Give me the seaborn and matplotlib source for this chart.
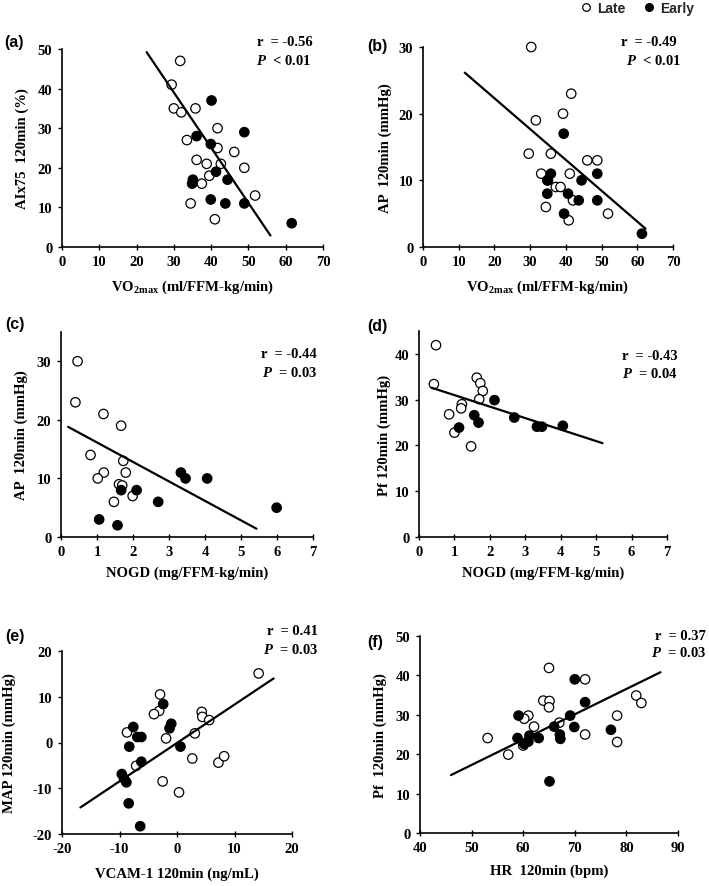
import numpy as np
import pandas as pd
import matplotlib
matplotlib.use("Agg")
import matplotlib.pyplot as plt
from matplotlib.lines import Line2D
import seaborn as sns

# ---------------- data ----------------
a_late_x = [31.7, 29.4, 30.0, 32.0, 35.8, 33.5, 41.7, 41.7, 46.2, 36.1, 38.8, 42.6, 48.9, 39.5, 37.5, 34.5, 51.8, 41.0]
a_late_y = [47, 41, 35, 34, 35, 27, 30, 25, 24, 22, 21, 21, 20, 18, 16, 11, 13, 7]
a_early_x = [40.1, 36.1, 48.9, 39.9, 41.3, 44.4, 35.1, 34.9, 39.9, 43.8, 48.9, 61.6]
a_early_y = [37, 28, 29, 26, 19, 17, 17, 16, 12, 11, 11, 6]
a_fit_x = [22.7, 55.9]
a_fit_y = [49.2, 2.9]

b_late_x = [30.3, 31.6, 29.6, 35.8, 39.2, 41.5, 33.1, 41.1, 46.0, 48.8, 35.0, 37.2, 38.5, 34.4, 42.0, 40.8, 51.8]
b_late_y = [30, 19, 14, 14, 20, 23, 11, 11, 13, 13, 10, 9, 9, 6, 7, 4, 5]
b_early_x = [39.4, 35.8, 34.8, 34.8, 40.6, 44.4, 48.8, 43.6, 48.8, 39.5, 61.3]
b_early_y = [17, 11, 10, 8, 8, 10, 11, 7, 7, 5, 2]
b_fit_x = [11.7, 62.3]
b_fit_y = [26.15, 2.75]

c_late_x = [0.46, 0.40, 1.18, 1.67, 0.82, 1.73, 1.19, 1.80, 1.02, 1.61, 1.70, 1.99, 1.47]
c_late_y = [30, 23, 21, 19, 14, 13, 11, 11, 10, 9, 8.8, 7, 6]
c_early_x = [1.06, 1.57, 1.67, 2.10, 2.70, 3.33, 3.46, 4.06, 5.99]
c_early_y = [3, 2, 8, 8, 6, 11, 10, 10, 5]
c_fit_x = [0.2, 5.43]
c_fit_y = [18.8, 1.41]

d_late_x = [0.48, 0.42, 1.63, 1.73, 1.80, 1.70, 1.21, 1.19, 0.85, 1.00, 1.47]
d_late_y = [41.9, 33.4, 34.8, 33.6, 31.9, 30.1, 29.0, 28.1, 26.8, 22.8, 19.8]
d_early_x = [2.13, 1.56, 1.68, 1.13, 2.69, 3.33, 3.47, 4.06]
d_early_y = [29.9, 26.6, 25.0, 23.9, 26.1, 24.1, 24.1, 24.3]
d_fit_x = [0.36, 5.18]
d_fit_y = [32.6, 20.5]

e_late_x = [14.2, -2.95, -3.1, -4.0, 4.3, 4.4, 5.6, -1.9, 3.1, -8.7, -7.1, 2.66, 7.2, 8.2, -2.5, 0.35]
e_late_y = [15.1, 10.5, 6.9, 6.2, 6.7, 5.6, 4.9, 0.9, 2.0, 2.2, -5.1, -3.5, -4.4, -3.0, -8.5, -10.9]
e_early_x = [-2.4, -7.6, -1.0, -1.3, -6.9, -6.2, -8.3, 0.6, -6.2, -9.6, -9.2, -8.8, -8.4, -6.4]
e_early_y = [8.4, 3.4, 4.1, 3.1, 1.2, 1.2, -0.9, -0.9, -4.2, -6.9, -7.9, -8.7, -13.3, -18.3]
e_fit_x = [-16.8, 16.8]
e_fit_y = [-14.2, 14.0]

f_late_x = [53.1, 57.1, 65.0, 72.0, 63.9, 65.1, 65.0, 61.0, 60.2, 62.1, 67.0, 72.0, 81.9, 82.9, 78.2, 78.2, 60.0]
f_late_y = [24.1, 19.9, 41.9, 39.0, 33.6, 33.5, 31.9, 29.8, 29.0, 27.0, 28.0, 25.0, 34.9, 33.0, 29.8, 23.1, 22.2]
f_early_x = [59.1, 58.9, 60.2, 61.2, 61.0, 63.0, 65.1, 66.0, 67.1, 67.2, 70.0, 69.1, 69.9, 72.0, 77.0]
f_early_y = [29.8, 24.1, 22.6, 24.7, 23.2, 24.1, 13.1, 27.0, 25.0, 23.9, 39.0, 29.8, 26.9, 33.2, 26.2]
f_fit_x = [46.0, 86.6]
f_fit_y = [14.7, 40.8]

panel_tags = ["(a)", "(b)", "(c)", "(d)", "(e)", "(f)"]
x_labels = [r"VO$_{\mathrm{2max}}$ (ml/FFM-kg/min)", r"VO$_{\mathrm{2max}}$ (ml/FFM-kg/min)",
            "NOGD (mg/FFM-kg/min)", "NOGD (mg/FFM-kg/min)",
            "VCAM-1 120min (ng/mL)", "HR  120min (bpm)"]
y_labels = ["AIx75  120min (%)", "AP  120min (mmHg)", "AP  120min (mmHg)",
            "Pf 120min (mmHg)", "MAP 120min (mmHg)", "Pf  120min (mmHg)"]
r_texts = ["-0.56", "-0.49", "-0.44", "-0.43", "0.41", "0.37"]
p_texts = ["< 0.01", "< 0.01", "= 0.03", "= 0.04", "= 0.03", "= 0.03"]
group_names = ["Late", "Early"]

# ---------------- layout / style ----------------
sns.set_theme(style="white")
plt.rcParams["font.family"] = ["Liberation Serif", "DejaVu Serif"]
plt.rcParams["font.weight"] = "bold"
plt.rcParams["axes.labelweight"] = "bold"
plt.rcParams["axes.unicode_minus"] = False
plt.rcParams["mathtext.fontset"] = "custom"
plt.rcParams["mathtext.rm"] = "Liberation Serif:bold"
plt.rcParams["mathtext.it"] = "Liberation Serif:bold:italic"
plt.rcParams["mathtext.bf"] = "Liberation Serif:bold"

W, H = 709, 887
fig = plt.figure(figsize=(W / 100, H / 100), dpi=100)
fig.patch.set_facecolor("white")

# axes boxes in pixels: left, top, right, bottom
boxes = [(62, 50, 323, 248), (423, 48, 673, 248),
         (61, 333, 313, 538), (419, 332, 667, 538),
         (62, 652, 292, 835), (420, 637, 678, 834)]
xlims = [(0, 70), (0, 70), (0, 7), (0, 7), (-20, 20), (40, 90)]
xticks = [np.arange(0, 71, 10), np.arange(0, 71, 10), np.arange(0, 8, 1),
          np.arange(0, 8, 1), np.arange(-20, 21, 10), np.arange(40, 91, 10)]
ylims = [(0, 50), (0, 30), (0, 35), (0, 45), (-20, 20), (0, 50)]
yticks = [np.arange(0, 51, 10), np.arange(0, 31, 10), np.arange(0, 31, 10),
          np.arange(0, 41, 10), np.arange(-20, 21, 10), np.arange(0, 51, 10)]
xlabel_top = [279, 279, 567, 567, 868, 865]
ylabel_cx = [23, 386, 22, 385, 10, 381]
tag_pos = [(4, 43), (367, 47), (5, 325), (367, 326), (5, 636), (367, 642)]
r_pos = [(313, 42), (677, 42), (317, 355), (678, 356), (318, 632), (706, 637)]
p_pos = [(311, 61), (681, 61), (317, 373), (678, 374), (318, 650), (706, 653)]

panels = [
    (a_late_x, a_late_y, a_early_x, a_early_y, a_fit_x, a_fit_y),
    (b_late_x, b_late_y, b_early_x, b_early_y, b_fit_x, b_fit_y),
    (c_late_x, c_late_y, c_early_x, c_early_y, c_fit_x, c_fit_y),
    (d_late_x, d_late_y, d_early_x, d_early_y, d_fit_x, d_fit_y),
    (e_late_x, e_late_y, e_early_x, e_early_y, e_fit_x, e_fit_y),
    (f_late_x, f_late_y, f_early_x, f_early_y, f_fit_x, f_fit_y),
]

FS_TICK = 10.5
FS_LAB = 10.6
FS_STAT = 10.5

for i, (lx, ly, ex, ey, fx, fy) in enumerate(panels):
    l, t, r, b = boxes[i]
    ax = fig.add_axes([l / W, 1 - b / H, (r - l) / W, (b - t) / H])
    ax.set_facecolor("white")
    df = pd.DataFrame({
        "x": list(lx) + list(ex),
        "y": list(ly) + list(ey),
        "group": [group_names[0]] * len(lx) + [group_names[1]] * len(ex),
    })
    sns.scatterplot(data=df, x="x", y="y", hue="group",
                    palette={"Late": "white", "Early": "black"},
                    edgecolor="black", linewidth=0.9, s=46, legend=False,
                    ax=ax, zorder=2, clip_on=False)
    sns.lineplot(x=fx, y=fy, color="black", linewidth=1.6, ax=ax, zorder=3)

    ax.set_xlim(*xlims[i])
    ax.set_ylim(*ylims[i])
    ax.set_xticks(xticks[i])
    ax.set_yticks(yticks[i])
    for s in ("top", "right"):
        ax.spines[s].set_visible(False)
    for s in ("left", "bottom"):
        ax.spines[s].set_color("black")
        ax.spines[s].set_linewidth(1.2)
    ax.tick_params(axis="x", direction="inout", length=4, width=1.0, colors="black",
                   labelsize=FS_TICK, pad=4, bottom=True)
    ax.tick_params(axis="y", direction="out", length=3, width=1.0, colors="black",
                   labelsize=FS_TICK, pad=4, left=True)
    for lab in ax.get_xticklabels() + ax.get_yticklabels():
        lab.set_fontweight("bold")

    ax.set_xlabel(x_labels[i], fontsize=FS_LAB, fontweight="bold", color="black")
    ax.set_ylabel(y_labels[i], fontsize=FS_LAB, fontweight="bold", color="black")
    ax.xaxis.set_label_coords(0.5, -(xlabel_top[i] - b) / (b - t))
    ax.yaxis.set_label_coords((ylabel_cx[i] + 6 - l) / (r - l), 0.5)

    fig.text(tag_pos[i][0] / W, 1 - tag_pos[i][1] / H, panel_tags[i],
             family=["Liberation Sans", "DejaVu Sans"], fontsize=11.5,
             fontweight="bold", ha="left", va="center", color="black")
    fig.text(r_pos[i][0] / W, 1 - r_pos[i][1] / H, "r  = " + r_texts[i],
             fontsize=FS_STAT, fontweight="bold", ha="right", va="center", color="black")
    fig.text(p_pos[i][0] / W, 1 - p_pos[i][1] / H, r"$\mathit{P}$  " + p_texts[i],
             fontsize=FS_STAT, fontweight="bold", ha="right", va="center", color="black")

handles = [Line2D([], [], marker="o", ls="", markerfacecolor="white", markeredgecolor="black",
                  markeredgewidth=0.9, markersize=5.5),
           Line2D([], [], marker="o", ls="", markerfacecolor="black", markeredgecolor="black",
                  markersize=5.5)]
fig.legend(handles, group_names, loc="center right", bbox_to_anchor=(700 / W, 1 - 9 / H),
           ncol=2, frameon=False, handletextpad=0.3, columnspacing=1.2,
           prop={"family": ["Liberation Sans", "DejaVu Sans"], "weight": "bold", "size": 10},
           borderaxespad=0, handlelength=1.0)

fig.savefig("out.png", dpi=100, facecolor="white")
